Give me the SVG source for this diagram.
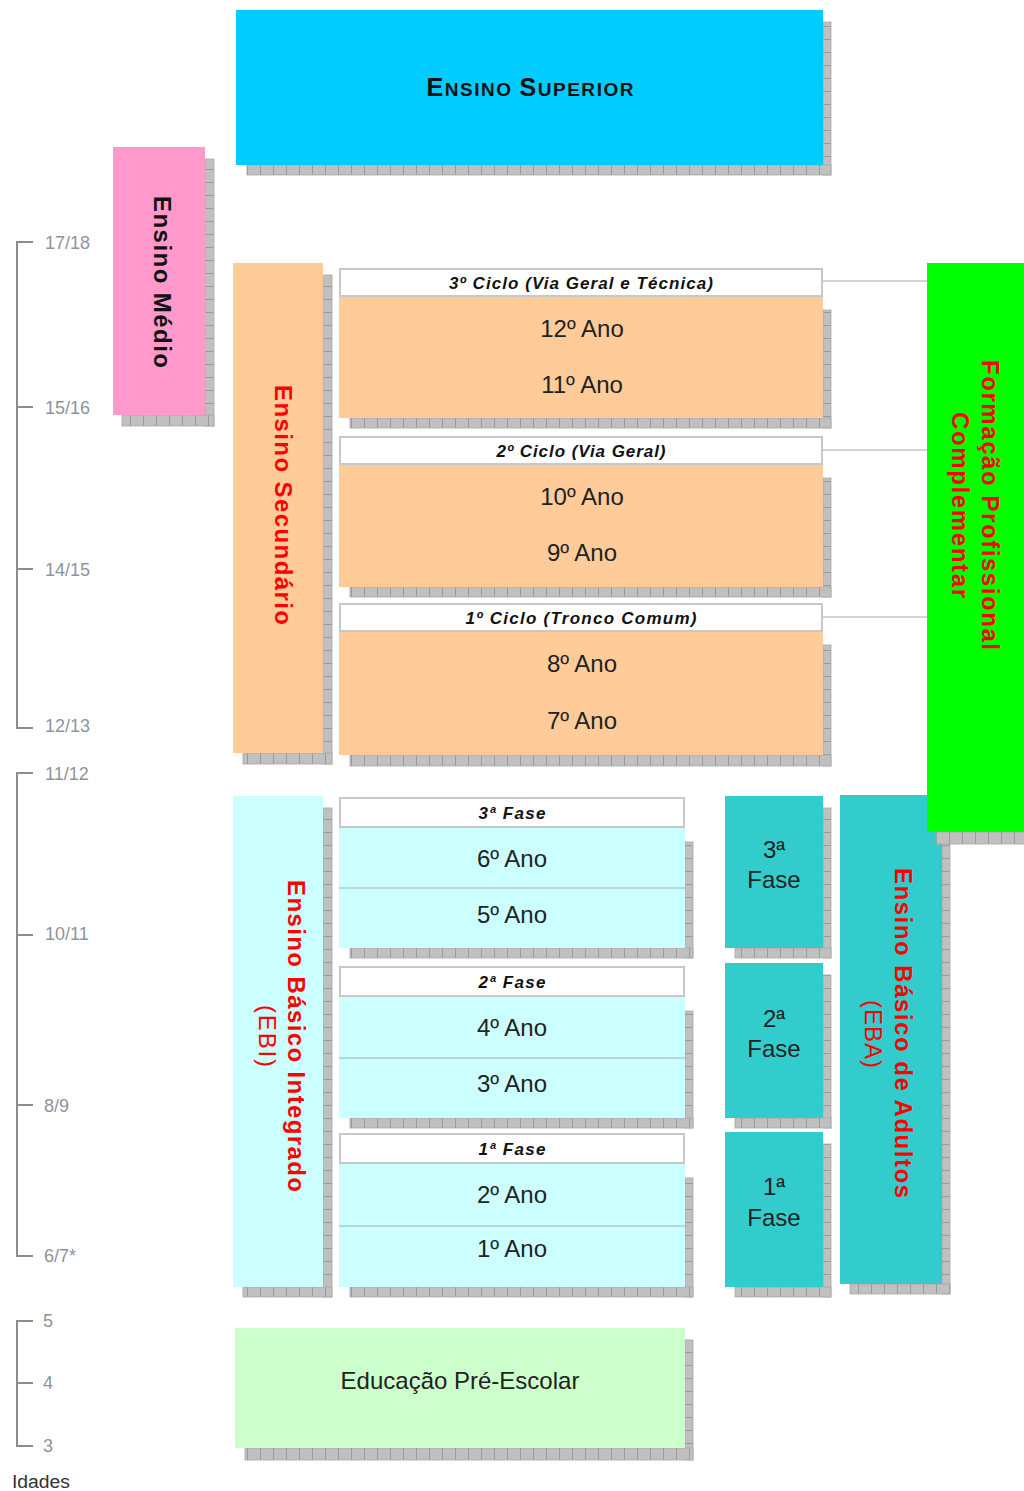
<svg xmlns="http://www.w3.org/2000/svg" width="1024" height="1491" viewBox="0 0 1024 1491">
<style>
text{font-family:"Liberation Sans",Arial,sans-serif}
.sb{fill:url(#pv);stroke:#a8a8a8;stroke-width:0.8}
.sr{fill:url(#ph);stroke:#a8a8a8;stroke-width:0.8}
.hdr{fill:#fff;stroke:#c8c8c8;stroke-width:2}
.hdt{font-size:17px;font-weight:bold;font-style:italic;fill:#111;text-anchor:middle}
.ano{font-size:24px;fill:#222;text-anchor:middle}
.vt{font-size:24px;font-weight:bold;fill:#ff0000;text-anchor:middle}
.vn{font-size:24px;font-weight:normal;fill:#ff0000;text-anchor:middle}
.age{font-size:18px;fill:#8e949c}
.scl{stroke:#8c8c8c;stroke-width:2;fill:none}
.sep{stroke:#b0c8c8;stroke-width:1.5}
.con{stroke:#d4d4d4;stroke-width:2}
</style>
<defs>
<pattern id="pv" width="13" height="20" patternUnits="userSpaceOnUse"><rect width="13" height="20" fill="#c0c0c0"/><line x1="0.5" y1="0" x2="0.5" y2="20" stroke="#9a9a9a" stroke-width="1"/></pattern>
<pattern id="ph" width="20" height="13" patternUnits="userSpaceOnUse"><rect width="20" height="13" fill="#c0c0c0"/><line x1="0" y1="0.5" x2="20" y2="0.5" stroke="#9a9a9a" stroke-width="1"/></pattern>
</defs>
<rect width="1024" height="1491" fill="#fff"/>

<g id="scale">
<path class="scl" d="M33 242H17V728H33M17 407H33M17 569H33"/>
<path class="scl" d="M33 773H17V1256H33M17 935H33M17 1105H33"/>
<path class="scl" d="M33 1321H17V1446H33M17 1383H33"/>
<text class="age" x="45" y="249">17/18</text>
<text class="age" x="45" y="414">15/16</text>
<text class="age" x="45" y="576">14/15</text>
<text class="age" x="45" y="732">12/13</text>
<text class="age" x="45" y="780">11/12</text>
<text class="age" x="45" y="940">10/11</text>
<text class="age" x="44" y="1112">8/9</text>
<text class="age" x="44" y="1262">6/7*</text>
<text class="age" x="43" y="1327">5</text>
<text class="age" x="43" y="1389">4</text>
<text class="age" x="43" y="1452">3</text>
<text x="12" y="1488" font-size="18" fill="#333" textLength="58" lengthAdjust="spacingAndGlyphs">Idades</text>
</g>

<g id="connectors">
<line class="con" x1="822" y1="281" x2="927" y2="281"/>
<line class="con" x1="822" y1="450" x2="927" y2="450"/>
<line class="con" x1="822" y1="617" x2="927" y2="617"/>
</g>

<g id="ensino-superior">
<rect class="sr" x="823" y="22" width="8" height="153"/>
<rect class="sb" x="247" y="165" width="584" height="10"/>
<rect x="236" y="10" width="587" height="155" fill="#00ccff"/>
<text x="530" y="96" font-weight="bold" fill="#111" text-anchor="middle" textLength="207"><tspan font-size="25">E</tspan><tspan font-size="19">NSINO </tspan><tspan font-size="25">S</tspan><tspan font-size="19">UPERIOR</tspan></text>
</g>

<g id="ensino-medio">
<rect class="sr" x="205" y="159" width="9" height="267"/>
<rect class="sb" x="122" y="415" width="92" height="11"/>
<rect x="113" y="147" width="92" height="268" fill="#ff99cc"/>
<text transform="translate(154,282) rotate(90)" font-size="24" font-weight="bold" fill="#111" text-anchor="middle" textLength="172">Ensino Médio</text>
</g>

<g id="ensino-secundario">
<rect class="sr" x="323" y="275" width="9" height="489"/>
<rect class="sb" x="243" y="753" width="89" height="11"/>
<rect x="233" y="263" width="90" height="490" fill="#ffcc99"/>
<text class="vt" transform="translate(275,505) rotate(90)" textLength="240">Ensino Secundário</text>
</g>

<g id="ciclo3">
<rect class="sr" x="823" y="310" width="8" height="118"/>
<rect class="sb" x="350" y="418" width="481" height="10"/>
<rect class="hdr" x="340" y="269" width="482" height="27"/>
<text class="hdt" x="581" y="289" textLength="264">3º Ciclo (Via Geral e Técnica)</text>
<rect x="339" y="297" width="484" height="121" fill="#ffcc99"/>
<text class="ano" x="582" y="337">12º Ano</text>
<text class="ano" x="582" y="393">11º Ano</text>
</g>

<g id="ciclo2">
<rect class="sr" x="823" y="478" width="8" height="119"/>
<rect class="sb" x="350" y="587" width="481" height="10"/>
<rect class="hdr" x="340" y="437" width="482" height="27"/>
<text class="hdt" x="581" y="457" textLength="169">2º Ciclo (Via Geral)</text>
<rect x="339" y="465" width="484" height="122" fill="#ffcc99"/>
<text class="ano" x="582" y="505">10º Ano</text>
<text class="ano" x="582" y="561">9º Ano</text>
</g>

<g id="ciclo1">
<rect class="sr" x="823" y="645" width="8" height="121"/>
<rect class="sb" x="350" y="755" width="481" height="11"/>
<rect class="hdr" x="340" y="604" width="482" height="27"/>
<text class="hdt" x="581" y="624" textLength="231">1º Ciclo (Tronco Comum)</text>
<rect x="339" y="632" width="484" height="123" fill="#ffcc99"/>
<text class="ano" x="582" y="672">8º Ano</text>
<text class="ano" x="582" y="729">7º Ano</text>
</g>

<g id="ebi">
<rect class="sr" x="323" y="808" width="9" height="489"/>
<rect class="sb" x="243" y="1287" width="89" height="10"/>
<rect x="233" y="796" width="90" height="491" fill="#ccffff"/>
<text class="vt" transform="translate(288,1036) rotate(90)" textLength="312">Ensino Básico Integrado</text>
<text class="vn" transform="translate(259,1036) rotate(90)" textLength="62">(EBI)</text>
</g>

<g id="fase3">
<rect class="sr" x="685" y="842" width="8" height="116"/>
<rect class="sb" x="350" y="948" width="343" height="10"/>
<rect class="hdr" x="340" y="798" width="344" height="29"/>
<text class="hdt" x="512" y="819" textLength="67">3ª Fase</text>
<rect x="339" y="828" width="346" height="120" fill="#ccffff"/>
<line class="sep" x1="339" y1="888" x2="685" y2="888"/>
<text class="ano" x="512" y="867">6º Ano</text>
<text class="ano" x="512" y="923">5º Ano</text>
</g>

<g id="fase2">
<rect class="sr" x="685" y="1011" width="8" height="117"/>
<rect class="sb" x="350" y="1118" width="343" height="10"/>
<rect class="hdr" x="340" y="967" width="344" height="29"/>
<text class="hdt" x="512" y="988" textLength="67">2ª Fase</text>
<rect x="339" y="997" width="346" height="121" fill="#ccffff"/>
<line class="sep" x1="339" y1="1058" x2="685" y2="1058"/>
<text class="ano" x="512" y="1036">4º Ano</text>
<text class="ano" x="512" y="1092">3º Ano</text>
</g>

<g id="fase1">
<rect class="sr" x="685" y="1178" width="8" height="119"/>
<rect class="sb" x="350" y="1287" width="343" height="10"/>
<rect class="hdr" x="340" y="1134" width="344" height="29"/>
<text class="hdt" x="512" y="1155" textLength="67">1ª Fase</text>
<rect x="339" y="1164" width="346" height="123" fill="#ccffff"/>
<line class="sep" x1="339" y1="1226" x2="685" y2="1226"/>
<text class="ano" x="512" y="1203">2º Ano</text>
<text class="ano" x="512" y="1257">1º Ano</text>
</g>

<g id="eba-fase3">
<rect class="sr" x="823" y="808" width="8" height="150"/>
<rect class="sb" x="735" y="948" width="96" height="10"/>
<rect x="725" y="796" width="98" height="152" fill="#33cccc"/>
<text class="ano" x="774" y="858">3ª</text>
<text class="ano" x="774" y="888">Fase</text>
</g>

<g id="eba-fase2">
<rect class="sr" x="823" y="975" width="8" height="153"/>
<rect class="sb" x="735" y="1118" width="96" height="10"/>
<rect x="725" y="963" width="98" height="155" fill="#33cccc"/>
<text class="ano" x="774" y="1027">2ª</text>
<text class="ano" x="774" y="1057">Fase</text>
</g>

<g id="eba-fase1">
<rect class="sr" x="823" y="1144" width="8" height="153"/>
<rect class="sb" x="735" y="1287" width="96" height="10"/>
<rect x="725" y="1132" width="98" height="155" fill="#33cccc"/>
<text class="ano" x="774" y="1195">1ª</text>
<text class="ano" x="774" y="1226">Fase</text>
</g>

<g id="eba">
<rect class="sr" x="942" y="807" width="8" height="487"/>
<rect class="sb" x="850" y="1284" width="100" height="10"/>
<rect x="840" y="795" width="102" height="489" fill="#33cccc"/>
<text class="vt" transform="translate(895,1033) rotate(90)" textLength="330">Ensino Básico de Adultos</text>
<text class="vn" transform="translate(865,1034) rotate(90)" textLength="68">(EBA)</text>
</g>

<g id="formacao-profissional">
<rect class="sb" x="936" y="832" width="100" height="12"/>
<rect x="927" y="263" width="100" height="569" fill="#00ff00"/>
<text class="vt" transform="translate(982,505) rotate(90)" textLength="290">Formação Profissional</text>
<text class="vt" transform="translate(952,505) rotate(90)" textLength="186">Complementar</text>
</g>

<g id="pre-escolar">
<rect class="sr" x="685" y="1340" width="8" height="120"/>
<rect class="sb" x="245" y="1448" width="448" height="12"/>
<rect x="235" y="1328" width="450" height="120" fill="#ccffcc"/>
<text class="ano" x="460" y="1389">Educação Pré-Escolar</text>
</g>
</svg>
